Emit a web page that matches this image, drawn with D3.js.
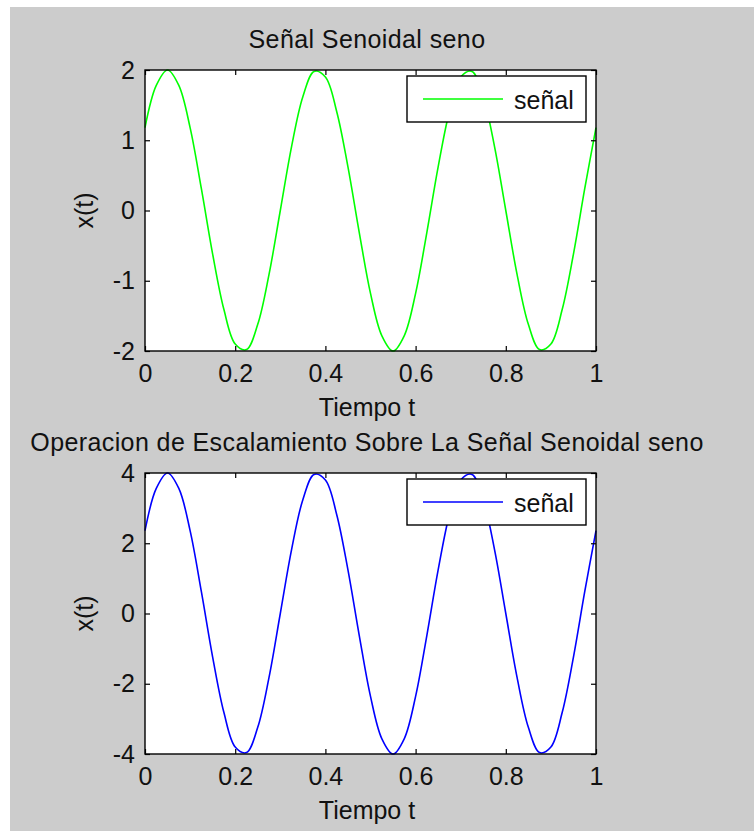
<!DOCTYPE html>
<html>
<head>
<meta charset="utf-8">
<script src="https://cdn.jsdelivr.net/npm/d3@7"></script>
<style>
  html, body { margin: 0; padding: 0; background: #ffffff; }
  svg { display: block; }
  text { font-family: "Liberation Sans", Arial, Helvetica, sans-serif; fill: #111; }
</style>
</head>
<body>
<svg id="fig" width="754" height="831"></svg>
<script>
// Time samples (s)
const tiempo = [0, 0.025, 0.05, 0.075, 0.1, 0.125, 0.15, 0.175, 0.2, 0.225,
  0.25, 0.275, 0.3, 0.325, 0.35, 0.375, 0.4, 0.425, 0.45, 0.475,
  0.5, 0.525, 0.55, 0.575, 0.6, 0.625, 0.65, 0.675, 0.7, 0.725,
  0.75, 0.775, 0.8, 0.825, 0.85, 0.875, 0.9, 0.925, 0.95, 0.975, 1.0];

// Original sinusoid x(t)
const senal = [1.18, 1.78, 2.00, 1.78, 1.18, 0.31, -0.62, -1.41, -1.90, -1.98,
  -1.62, -0.91, 0.00, 0.91, 1.62, 1.98, 1.90, 1.41, 0.62, -0.31,
  -1.18, -1.78, -2.00, -1.78, -1.18, -0.31, 0.62, 1.41, 1.90, 1.98,
  1.62, 0.91, 0.00, -0.91, -1.62, -1.98, -1.90, -1.41, -0.62, 0.31, 1.18];

// Amplitude-scaled sinusoid
const senalEscalada = [2.36, 3.56, 4.00, 3.56, 2.36, 0.62, -1.24, -2.82, -3.80, -3.96,
  -3.24, -1.82, 0.00, 1.82, 3.24, 3.96, 3.80, 2.82, 1.24, -0.62,
  -2.36, -3.56, -4.00, -3.56, -2.36, -0.62, 1.24, 2.82, 3.80, 3.96,
  3.24, 1.82, 0.00, -1.82, -3.24, -3.96, -3.80, -2.82, -1.24, 0.62, 2.36];

const xTicks = [0, 0.2, 0.4, 0.6, 0.8, 1];
const yTicksArriba = [-2, -1, 0, 1, 2];
const yTicksAbajo = [-4, -2, 0, 2, 4];

const titulos = ["Señal Senoidal seno", "Operacion de Escalamiento Sobre La Señal Senoidal seno"];
const etiquetaX = "Tiempo t";
const etiquetaY = "x(t)";
const leyenda = "señal";

const svg = d3.select("#fig");

// figure background
svg.append("rect").attr("x", 10).attr("y", 7).attr("width", 744).attr("height", 824)
  .attr("fill", "#cccccc");

const FONT = 25;
const left = 145, right = 596;

function panel(cfg) {
  const x = d3.scaleLinear().domain([0, 1]).range([left, right]);
  const y = d3.scaleLinear().domain(cfg.yDomain).range([cfg.bottom, cfg.top]);
  const g = svg.append("g");

  g.append("rect").attr("x", left).attr("y", cfg.top)
    .attr("width", right - left).attr("height", cfg.bottom - cfg.top)
    .attr("fill", "#ffffff");

  const clipId = "clip" + cfg.id;
  svg.append("clipPath").attr("id", clipId).append("rect")
    .attr("x", left - 1).attr("y", cfg.top - 1)
    .attr("width", right - left + 2).attr("height", cfg.bottom - cfg.top + 2);

  const line = d3.line()
    .x((d, i) => x(tiempo[i]))
    .y(d => y(d))
    .curve(d3.curveCatmullRom.alpha(0.5));

  g.append("path").datum(cfg.values)
    .attr("clip-path", `url(#${clipId})`)
    .attr("d", line)
    .attr("fill", "none")
    .attr("stroke", cfg.color)
    .attr("stroke-width", 1.6);

  // axes with inward ticks on all sides
  const axB = g.append("g").attr("transform", `translate(0,${cfg.bottom})`)
    .call(d3.axisBottom(x).tickValues(xTicks).tickSizeInner(-5).tickSizeOuter(0)
      .tickPadding(13).tickFormat(d3.format("")));
  const axT = g.append("g").attr("transform", `translate(0,${cfg.top})`)
    .call(d3.axisTop(x).tickValues(xTicks).tickSizeInner(-5).tickSizeOuter(0)
      .tickFormat(""));
  const axL = g.append("g").attr("transform", `translate(${left},0)`)
    .call(d3.axisLeft(y).tickValues(cfg.yTicks).tickSizeInner(-5).tickSizeOuter(0)
      .tickPadding(10).tickFormat(d3.format("")));
  const axR = g.append("g").attr("transform", `translate(${right},0)`)
    .call(d3.axisRight(y).tickValues(cfg.yTicks).tickSizeInner(-5).tickSizeOuter(0)
      .tickFormat(""));

  [axB, axT, axL, axR].forEach(a => {
    a.select(".domain").remove();
    a.selectAll(".tick line").attr("stroke", "#000").attr("stroke-width", 1.2);
    a.selectAll(".tick text").attr("font-size", FONT)
      .attr("font-family", "'Liberation Sans', Arial, sans-serif").attr("fill", "#111");
  });
  axL.selectAll(".tick text").text(d => d < 0 ? "-" + Math.abs(d) : d);

  // frame
  g.append("rect").attr("x", left).attr("y", cfg.top)
    .attr("width", right - left).attr("height", cfg.bottom - cfg.top)
    .attr("fill", "none").attr("stroke", "#000").attr("stroke-width", 1.4);

  // legend
  const lx = left + 262, ly = cfg.top + 6;
  g.append("rect").attr("x", lx).attr("y", ly).attr("width", 179).attr("height", 46)
    .attr("fill", "#ffffff").attr("stroke", "#000").attr("stroke-width", 1.4);
  g.append("line").attr("x1", lx + 16).attr("x2", lx + 96)
    .attr("y1", ly + 23).attr("y2", ly + 23)
    .attr("stroke", cfg.color).attr("stroke-width", 1.6);
  g.append("text").attr("x", lx + 107).attr("y", ly + 33)
    .attr("font-size", FONT).text(leyenda);

  // title and labels
  g.append("text").attr("x", 367).attr("y", cfg.top - 22)
    .attr("text-anchor", "middle").attr("font-size", FONT)
    .attr("letter-spacing", 0.4).text(cfg.title);
  g.append("text").attr("x", 367).attr("y", cfg.bottom + 65)
    .attr("text-anchor", "middle").attr("font-size", FONT).text(etiquetaX);
  g.append("text")
    .attr("transform", `translate(93,${(cfg.top + cfg.bottom) / 2}) rotate(-90)`)
    .attr("text-anchor", "middle").attr("font-size", FONT).text(etiquetaY);
}

panel({ id: 1, top: 70, bottom: 351, yDomain: [-2, 2], yTicks: yTicksArriba,
  values: senal, color: "#00ff00", title: titulos[0] });
panel({ id: 2, top: 473, bottom: 754, yDomain: [-4, 4], yTicks: yTicksAbajo,
  values: senalEscalada, color: "#0000ff", title: titulos[1] });
</script>
</body>
</html>
